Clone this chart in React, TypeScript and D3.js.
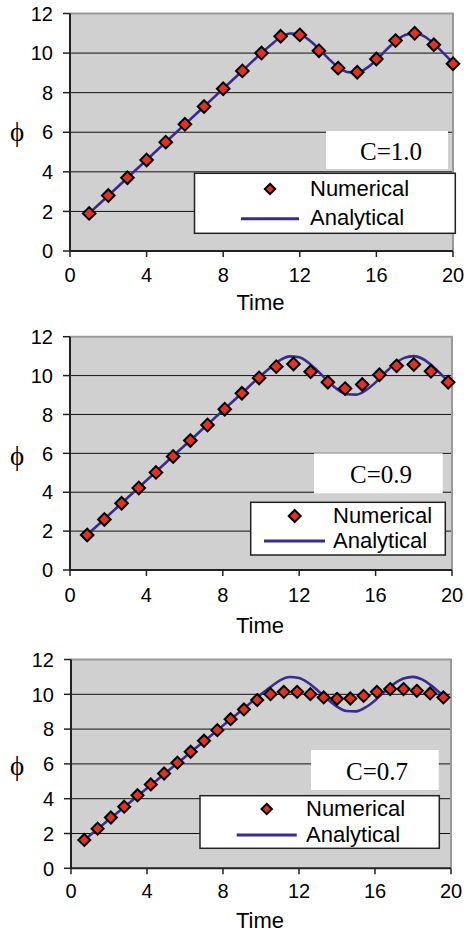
import React from "react";
import * as d3 from "d3";

// ---------- DATA ----------
const timeTicks = [0, 4, 8, 12, 16, 20];
const phiTicks = [0, 2, 4, 6, 8, 10, 12];

const courantLabels = ["C=1.0", "C=0.9", "C=0.7"];
const legendLabels = ["Numerical", "Analytical"];

const timeC10 = [1, 2, 3, 4, 5, 6, 7, 8, 9, 10, 11, 12, 13, 14, 15, 16, 17, 18, 19, 20];
const phiC10 = [1.9, 2.8, 3.7, 4.6, 5.5, 6.4, 7.3, 8.2, 9.1, 10.0, 10.85, 10.92, 10.12, 9.24, 9.03, 9.7, 10.63, 11.0, 10.42, 9.46];

const timeC09 = [0.9, 1.8, 2.7, 3.6, 4.5, 5.4, 6.3, 7.2, 8.1, 9.0, 9.9, 10.8, 11.7, 12.6, 13.5, 14.4, 15.3, 16.2, 17.1, 18.0, 18.9, 19.8];
const phiC09 = [1.8, 2.6, 3.43, 4.22, 5.02, 5.84, 6.66, 7.46, 8.27, 9.09, 9.88, 10.46, 10.6, 10.2, 9.66, 9.33, 9.54, 10.04, 10.5, 10.57, 10.22, 9.66];

const timeC07 = [0.7, 1.4, 2.1, 2.8, 3.5, 4.2, 4.9, 5.6, 6.3, 7.0, 7.7, 8.4, 9.1, 9.8, 10.5, 11.2, 11.9, 12.6, 13.3, 14.0, 14.7, 15.4, 16.1, 16.8, 17.5, 18.2, 18.9, 19.6];
const phiC07 = [1.63, 2.28, 2.92, 3.54, 4.2, 4.82, 5.45, 6.07, 6.7, 7.33, 7.94, 8.57, 9.13, 9.67, 10.01, 10.14, 10.14, 10.01, 9.82, 9.74, 9.76, 9.91, 10.14, 10.3, 10.3, 10.2, 10.05, 9.82];

const anaTime = [0.7, 1, 2, 3, 4, 5, 6, 7, 8, 9, 10, 10.5, 11, 11.5, 12, 12.5, 13, 13.5, 14, 14.5, 15, 15.5, 16, 16.5, 17, 17.5, 18, 18.5, 19, 19.5, 20];
const anaPhi = [1.63, 1.9, 2.8, 3.7, 4.6, 5.5, 6.4, 7.3, 8.2, 9.1, 10.0, 10.42, 10.8, 10.99, 10.94, 10.65, 10.21, 9.72, 9.29, 9.04, 9.02, 9.25, 9.65, 10.15, 10.6, 10.91, 11.0, 10.84, 10.47, 10.0, 9.51];

const numTimes = [timeC10, timeC09, timeC07];
const numPhis = [phiC10, phiC09, phiC07];

// ---------- LAYOUT ----------
type Layout = {
  x0: number; x1: number; yTop: number; yBot: number;
  xLabBase: number; timeBase: number; phiY: number;
  cBox: [number, number, number, number]; cX: number; cBase: number;
  lBox: [number, number, number, number];
  lMarker: [number, number]; lLine: [number, number, number];
  lTextX: number; lBase1: number; lBase2: number;
  mSize: number;
};

const layouts: Layout[] = [
  {
    x0: 70, x1: 453, yTop: 13.5, yBot: 251,
    xLabBase: 282, timeBase: 310, phiY: 133,
    cBox: [326, 131, 448, 169], cX: 391, cBase: 160,
    lBox: [194.5, 173.3, 455.3, 233.3], lMarker: [270, 189], lLine: [241, 299, 218.7],
    lTextX: 310, lBase1: 196, lBase2: 225.3, mSize: 6.3,
  },
  {
    x0: 70, x1: 452, yTop: 336.7, yBot: 570,
    xLabBase: 601.5, timeBase: 633, phiY: 456.7,
    cBox: [314, 453.3, 442.7, 493.3], cX: 381, cBase: 483.3,
    lBox: [250.7, 502.3, 445.3, 555], lMarker: [294.7, 516], lLine: [264, 325, 541],
    lTextX: 333, lBase1: 522.7, lBase2: 548.3, mSize: 6.3,
  },
  {
    x0: 71, x1: 451, yTop: 659.5, yBot: 868.3,
    xLabBase: 897.5, timeBase: 927.5, phiY: 766.7,
    cBox: [311, 750, 438.7, 790], cX: 377, cBase: 780,
    lBox: [200, 795.7, 439.3, 848.3], lMarker: [266.7, 809], lLine: [236.7, 296.7, 835],
    lTextX: 306, lBase1: 816, lBase2: 841.7, mSize: 6.0,
  },
];

const SANS = "'Liberation Sans', Arial, sans-serif";
const SERIF = "'Liberation Serif', 'Times New Roman', serif";
const RED = "#e3301f";
const LINE = "#3b2a8f";
const BG = "#d0d0d0";

function diamond(cx: number, cy: number, r: number) {
  return `M${cx},${cy - r}L${cx + r},${cy}L${cx},${cy + r}L${cx - r},${cy}Z`;
}

function Panel({ idx }: { idx: number }) {
  const L = layouts[idx];
  const x = d3.scaleLinear().domain([0, 20]).range([L.x0, L.x1]);
  const y = d3.scaleLinear().domain([0, 12]).range([L.yBot, L.yTop]);
  const ts = numTimes[idx];
  const ps = numPhis[idx];
  const tMin = ts[0];
  const tMax = ts[ts.length - 1];
  const line = d3
    .line<number>()
    .x((_, i) => x(anaTime[i]))
    .y((d) => y(d))
    .curve(d3.curveMonotoneX);
  const clipId = `clip${idx}`;
  const cx = (L.x0 + L.x1) / 2;
  return (
    <g>
      <defs>
        <clipPath id={clipId}>
          <rect x={x(tMin)} y={L.yTop - 20} width={x(tMax) - x(tMin)} height={L.yBot - L.yTop + 40} />
        </clipPath>
      </defs>
      <rect x={L.x0} y={L.yTop} width={L.x1 - L.x0} height={L.yBot - L.yTop} fill={BG} />
      {phiTicks.filter((t) => t > 0 && t < 12).map((t) => (
        <line key={"g" + t} x1={L.x0} x2={L.x1} y1={y(t)} y2={y(t)} stroke="#111" strokeWidth={1} />
      ))}
      {/* top & right border */}
      <path
        d={`M${L.x0},${L.yTop}H${L.x1}V${L.yBot}`}
        fill="none"
        stroke="#9a9a9a"
        strokeWidth={2}
      />
      {/* axes */}
      <line x1={L.x0} x2={L.x0} y1={L.yTop} y2={L.yBot} stroke="#222" strokeWidth={2} />
      <line x1={L.x0} x2={L.x1} y1={L.yBot} y2={L.yBot} stroke="#222" strokeWidth={2} />
      {phiTicks.map((t) => (
        <g key={"yt" + t}>
          <line x1={L.x0 - 7} x2={L.x0} y1={y(t)} y2={y(t)} stroke="#222" strokeWidth={1.5} />
          <text
            x={L.x0 - 17}
            y={y(t) + 7.2}
            textAnchor="end"
            fontFamily={SANS}
            fontSize={20}
            fill="#000"
          >
            {t}
          </text>
        </g>
      ))}
      {timeTicks.map((t) => (
        <g key={"xt" + t}>
          <line x1={x(t)} x2={x(t)} y1={L.yBot} y2={L.yBot + 6} stroke="#222" strokeWidth={1.5} />
          <text x={x(t)} y={L.xLabBase} textAnchor="middle" fontFamily={SANS} fontSize={20} fill="#000">
            {t}
          </text>
        </g>
      ))}
      <text x={cx - 1} y={L.timeBase} textAnchor="middle" fontFamily={SANS} fontSize={22} fill="#000">
        Time
      </text>
      <text x={17} y={L.phiY + 8} textAnchor="middle" fontFamily={SERIF} fontSize={27} fill="#000">
        ϕ
      </text>
      {/* analytical */}
      <path d={line(anaPhi) || ""} fill="none" stroke={LINE} strokeWidth={2.6} clipPath={`url(#${clipId})`} />
      {/* numerical */}
      {ts.map((t, i) => (
        <path
          key={"m" + i}
          d={diamond(x(t), y(ps[i]), L.mSize)}
          fill={RED}
          stroke="#000"
          strokeWidth={2}
          strokeLinejoin="miter"
        />
      ))}
      {/* C box */}
      <rect x={L.cBox[0]} y={L.cBox[1]} width={L.cBox[2] - L.cBox[0]} height={L.cBox[3] - L.cBox[1]} fill="#fff" />
      <text x={L.cX} y={L.cBase} textAnchor="middle" fontFamily={SERIF} fontSize={25} fill="#000">
        {courantLabels[idx]}
      </text>
      {/* legend */}
      <rect
        x={L.lBox[0]}
        y={L.lBox[1]}
        width={L.lBox[2] - L.lBox[0]}
        height={L.lBox[3] - L.lBox[1]}
        fill="#fff"
        stroke="#222"
        strokeWidth={1.5}
      />
      <path d={diamond(L.lMarker[0], L.lMarker[1], idx === 1 ? 6.0 : 5.2)} fill={RED} stroke="#000" strokeWidth={2} />
      <line x1={L.lLine[0]} x2={L.lLine[1]} y1={L.lLine[2]} y2={L.lLine[2]} stroke={LINE} strokeWidth={3} />
      <text x={L.lTextX} y={L.lBase1} fontFamily={SANS} fontSize={22} fill="#000">
        {legendLabels[0]}
      </text>
      <text x={L.lTextX} y={L.lBase2} fontFamily={SANS} fontSize={22} fill="#000">
        {legendLabels[1]}
      </text>
    </g>
  );
}

export default function App() {
  return (
    <svg
      width={468}
      height={933}
      viewBox="0 0 468 933"
      style={{ position: "absolute", left: 0, top: 0, background: "#fff" }}
    >
      <rect x={0} y={0} width={468} height={933} fill="#fff" />
      {[0, 1, 2].map((i) => (
        <Panel key={i} idx={i} />
      ))}
    </svg>
  );
}
